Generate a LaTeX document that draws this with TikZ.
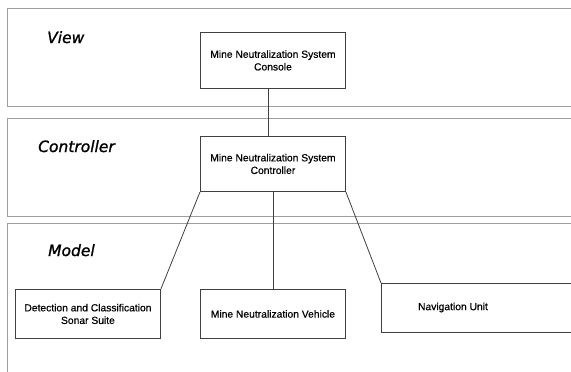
\documentclass[tikz,border=0pt]{standalone}
\usepackage{fontspec}
\setmainfont{Liberation Sans}[FakeBold=0.5]
\newfontfamily\layerfont{DejaVu Sans}[FakeBold=1.2]
\begin{document}
\begin{tikzpicture}[x=1pt,y=-1pt,
  band/.style={draw=black!38, line width=0.9pt},
  unit/.style={draw=black!75, line width=0.9pt, fill=white, rectangle,
    minimum width=145pt, minimum height=55pt, inner sep=2pt,
    align=center, font=\fontsize{10.3}{12.6}\selectfont, anchor=north west},
  layer/.style={anchor=base west, inner sep=0pt,
    font=\layerfont\itshape\fontsize{15.5}{18}\selectfont},
  link/.style={draw=black!75, line width=0.8pt}]
\useasboundingbox (0,0) rectangle (571,372);
\fill[white] (0,0) rectangle (571,372);
\clip (0,0) rectangle (571,372);

% layer bands (open to the right, the model band open at the bottom)
\draw[band] (600,8) -- (7,8) -- (7,106) -- (600,106);
\draw[band] (600,118) -- (7,118) -- (7,216) -- (600,216);
\draw[band] (600,223) -- (7,223) -- (7,400);

% layer titles
\node[layer] (lview) at (47,43) {View};
\node[layer] (lctrl) at (38,152) {Controller};
\node[layer] (lmodel) at (48,256) {Model};

% components
\node[unit, minimum height=56pt] (console) at (200,32) {Mine Neutralization System\\Console};
\node[unit] (ctrl) at (200,136) {Mine Neutralization System\\Controller};
\node[unit, minimum height=49pt] (sonar) at (15,289) {Detection and Classification\\Sonar Suite};
\node[unit, minimum height=49pt] (vehicle) at (200,289) {Mine Neutralization Vehicle};
\node[unit, minimum width=240pt, minimum height=49pt] (nav) at (381,283) {};
\node[font=\fontsize{10.3}{12.6}\selectfont, inner sep=0pt] (navtext) at (453,307.5) {Navigation Unit};

% connectors
\draw[link] ([xshift=-4.5pt]console.south) -- ([xshift=-4.5pt]ctrl.north);
\draw[link] (ctrl.south west) -- (sonar.north east);
\draw[link] (ctrl.south) -- (vehicle.north);
\draw[link] (ctrl.south east) -- (nav.north west);
\end{tikzpicture}
\end{document}
